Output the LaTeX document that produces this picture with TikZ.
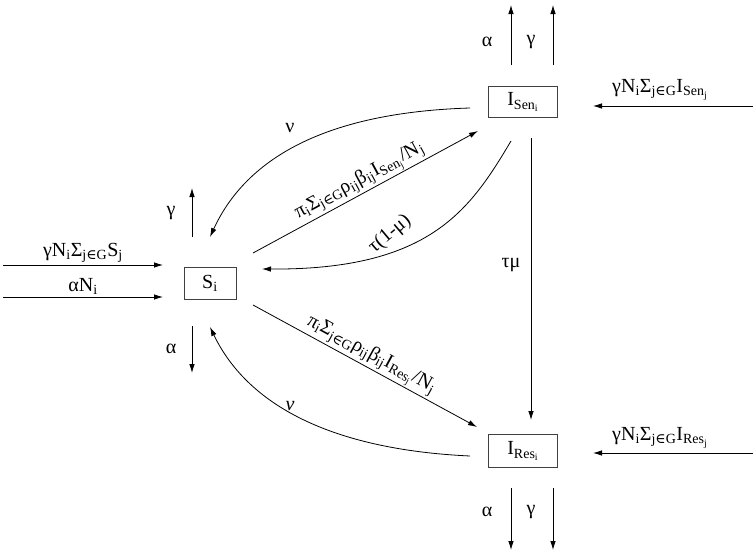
\documentclass[tikz,border=0pt]{standalone}
\usepackage{fontspec}
\setmainfont{Liberation Serif}
\newfontfamily\symf{DejaVu Serif}
\usetikzlibrary{arrows.meta}
\newcommand\lsb[1]{\textsubscript{#1}}
\newcommand\elem{{\symf ∈}}
\begin{document}
\begin{tikzpicture}[x=1pt,y=-1pt,
  font=\fontsize{20}{22}\selectfont,
  box/.style={draw=black!75, line width=0.8pt, inner sep=0pt},
  arr/.style={-{Latex[length=9pt,width=5.5pt]}, line width=0.8pt},
  lbl/.style={inner sep=1pt}]
\useasboundingbox (0,0) rectangle (756,554);
% boxes
\node[box, minimum width=52pt, minimum height=32pt] (S) at (210,283) {S\lsb{i}};
\node[box, minimum width=69pt, minimum height=31pt] (ISen) at (523,102) {I\lsb{Sen\lsb{i}}};
\node[box, minimum width=69pt, minimum height=33pt] (IRes) at (523,451) {I\lsb{Res\lsb{i}}};
% endpoint coordinates
\coordinate (inA0) at (3,265);   \coordinate (inA1) at (163,265);
\coordinate (inB0) at (3,297);   \coordinate (inB1) at (163,297);
\coordinate (Sup0) at (192,237); \coordinate (Sup1) at (192,188);
\coordinate (Sdn0) at (192,326); \coordinate (Sdn1) at (192,373);
\coordinate (SenA0) at (511,65); \coordinate (SenA1) at (511,5);
\coordinate (SenG0) at (553,65); \coordinate (SenG1) at (553,5);
\coordinate (ResA0) at (511,488); \coordinate (ResA1) at (511,550);
\coordinate (ResG0) at (553,488); \coordinate (ResG1) at (553,550);
\coordinate (SenIn0) at (753,106); \coordinate (SenIn1) at (593,106);
\coordinate (ResIn0) at (753,453); \coordinate (ResIn1) at (593,453);
% inflows on the left
\draw[arr] (inA0) -- (inA1) node[midway, above, lbl, yshift=1pt] {γN\lsb{i}Σ\lsb{j\elem G}S\lsb{j}};
\draw[arr] (inB0) -- (inB1) node[midway, above, lbl, yshift=1pt] {αN\lsb{i}};
% S outflows
\draw[arr] (Sup0) -- (Sup1);
\node[lbl] (lg1) at (171,213) {γ};
\draw[arr] (Sdn0) -- (Sdn1);
\node[lbl] (la1) at (171,349) {α};
% ISen outflows
\draw[arr] (SenA0) -- (SenA1);
\draw[arr] (SenG0) -- (SenG1);
\node[lbl] (la2) at (487,42) {α};
\node[lbl] (lg2) at (531,42) {γ};
% IRes outflows
\draw[arr] (ResA0) -- (ResA1);
\draw[arr] (ResG0) -- (ResG1);
\node[lbl] (la3) at (487,512) {α};
\node[lbl] (lg3) at (531,512) {γ};
% right inflows
\draw[arr] (SenIn0) -- (SenIn1);
\node[lbl] (lsi) at (660,90) {γN\lsb{i}Σ\lsb{j\elem G}I\lsb{Sen\lsb{j}}};
\draw[arr] (ResIn0) -- (ResIn1);
\node[lbl] (lri) at (660,438) {γN\lsb{i}Σ\lsb{j\elem G}I\lsb{Res\lsb{j}}};
% infection arrows
\coordinate (p1a) at (253,253); \coordinate (p1b) at (478,131);
\draw[arr] (p1a) -- (p1b) node[midway, above, sloped, lbl] {π\lsb{i}Σ\lsb{j\elem G}ρ\lsb{ij}β\lsb{ij}I\lsb{Sen\lsb{j}}/N\lsb{j}};
\coordinate (p2a) at (253,305); \coordinate (p2b) at (477,427);
\draw[arr] (p2a) -- (p2b) node[midway, above, sloped, lbl] {π\lsb{i}Σ\lsb{j\elem G}ρ\lsb{ij}β\lsb{ij}I\lsb{Res\lsb{j}}/N\lsb{j}};
% recovery curves
\coordinate (n1a) at (470,108); \coordinate (n1b) at (210,237);
\draw[arr] (n1a) .. controls (340,112) and (250,150) .. (n1b);
\node[lbl] (ln1) at (290,128) {ν};
\coordinate (n2a) at (470,456); \coordinate (n2b) at (210,327);
\draw[arr] (n2a) .. controls (340,450) and (250,410) .. (n2b);
\node[lbl] (ln2) at (290,406) {\itshape ν};
% tau (1-mu)
\coordinate (t1a) at (511,141); \coordinate (t1b) at (262,269);
\draw[arr] (t1a) .. controls (470,210) and (430,270) .. (t1b);
\node[lbl, rotate=40] (lt1) at (390,234) {τ(1-μ)};
% tau mu
\coordinate (t2a) at (531,138); \coordinate (t2b) at (531,420);
\draw[arr] (t2a) -- (t2b);
\node[lbl] (lt2) at (511,265) {τμ};
\end{tikzpicture}
\end{document}
